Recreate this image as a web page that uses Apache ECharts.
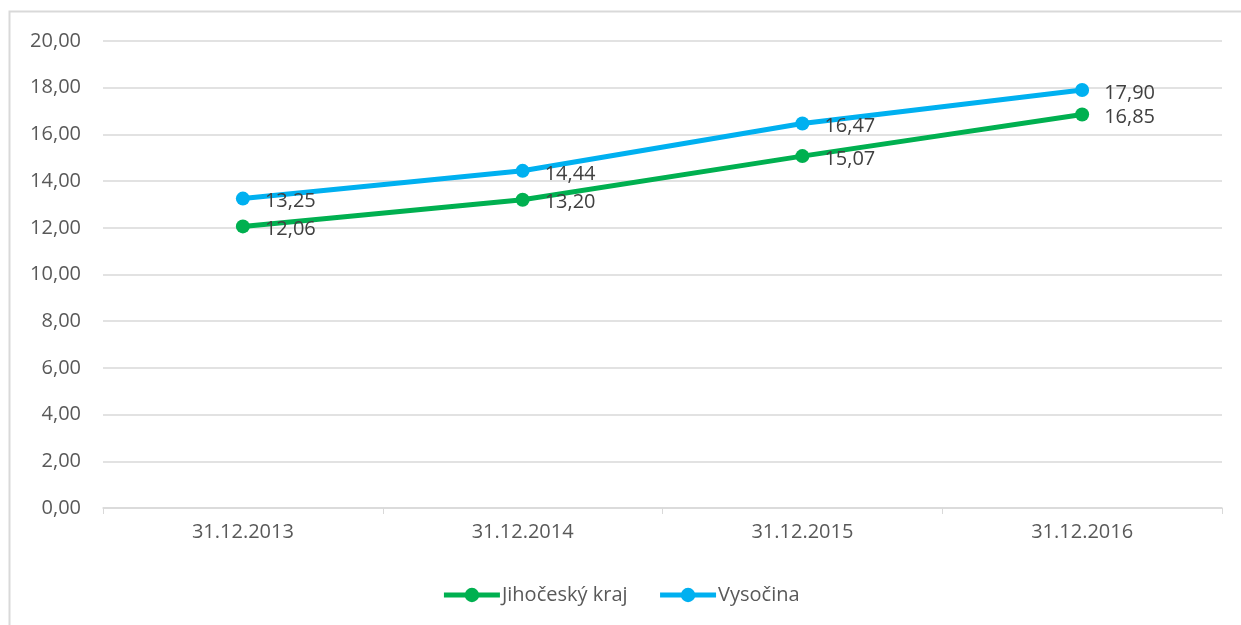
<!DOCTYPE html>
<html lang="cs">
<head>
    <meta charset="utf-8"/>
    <title>Chart</title>
    <script src="https://cdn.jsdelivr.net/npm/echarts@6/dist/echarts.min.js"></script>
    <style>
        html, body { margin: 0; padding: 0; background: #fff; }
        #chart { width: 1241px; height: 625px; }
    </style>
</head>
<body>
<div id="chart"></div>
<script type="text/javascript">

  var categories = ['31.12.2013', '31.12.2014', '31.12.2015', '31.12.2016'];
  var jihocesky = [12.06, 13.20, 15.07, 16.85];
  var vysocina = [13.25, 14.44, 16.47, 17.90];
  var seriesNames = ['Jihočeský kraj', 'Vysočina'];

  var FONT = '"Open Sans", "Noto Sans", sans-serif';

  function fmt(v) {
    return Number(v).toFixed(2).replace('.', ',');
  }

  function lineSeries(name, data, color) {
    return {
      name: name,
      type: 'line',
      data: data,
      symbol: 'circle',
      symbolSize: 14,
      lineStyle: { width: 5, color: color },
      itemStyle: { color: color },
      label: {
        show: true,
        position: 'right',
        distance: 15,
        offset: [0, 3],
        color: '#404040',
        fontFamily: FONT,
        fontSize: 20,
        formatter: function (p) { return fmt(p.value); }
      },
      emphasis: { disabled: true },
      animation: false
    };
  }

  var chart = echarts.init(document.getElementById('chart'));
  chart.setOption({
    animation: false,
    graphic: [{
      type: 'rect',
      shape: { x: 9.5, y: 11.5, width: 1260, height: 640 },
      style: { fill: 'none', stroke: '#d9d9d9', lineWidth: 2 },
      silent: true
    }],
    grid: { left: 103, right: 19, top: 41, bottom: 117 },
    legend: {
      bottom: 15,
      left: 'center',
      itemWidth: 56,
      itemHeight: 18,
      itemGap: 30,
      lineStyle: { width: 5 },
      textStyle: { color: '#595959', fontFamily: FONT, fontSize: 20, padding: [0, 0, 0, -3] },
      data: seriesNames
    },
    xAxis: {
      type: 'category',
      data: categories,
      boundaryGap: true,
      axisLine: { lineStyle: { color: '#d9d9d9', width: 1.5 } },
      axisTick: { show: true, alignWithLabel: false, length: 6, lineStyle: { color: '#d9d9d9' } },
      axisLabel: { color: '#595959', fontFamily: FONT, fontSize: 20, margin: 14 }
    },
    yAxis: {
      type: 'value',
      min: 0,
      max: 20,
      interval: 2,
      axisLine: { show: false },
      axisTick: { show: false },
      splitLine: { lineStyle: { color: '#d9d9d9', width: 1.5 } },
      axisLabel: {
        color: '#595959', fontFamily: FONT, fontSize: 20, margin: 22,
        formatter: function (v) { return fmt(v); }
      }
    },
    series: [
      lineSeries(seriesNames[0], jihocesky, '#00b050'),
      lineSeries(seriesNames[1], vysocina, '#00b0f0')
    ]
  });
</script>
</body>
</html>
